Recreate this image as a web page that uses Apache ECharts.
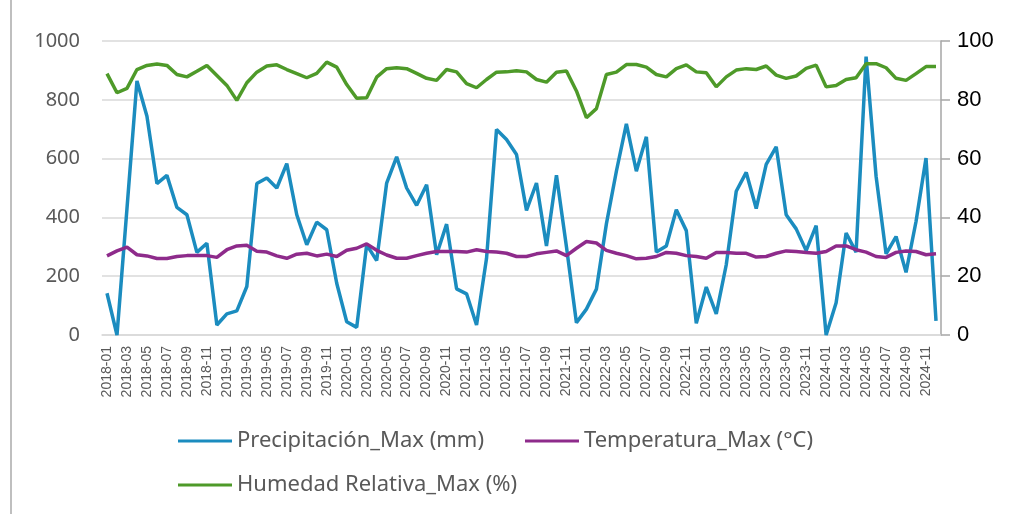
<!DOCTYPE html>
<html><head><meta charset="utf-8">
<script src="https://cdn.jsdelivr.net/npm/echarts@6/dist/echarts.min.js"></script>
<style>html,body{margin:0;padding:0;background:#fff;}#c{width:1013px;height:514px;}</style>
</head><body><div id="c"></div>
<script>
const categories = [
"2018-01","2018-02","2018-03","2018-04","2018-05","2018-06","2018-07","2018-08","2018-09","2018-10","2018-11","2018-12",
"2019-01","2019-02","2019-03","2019-04","2019-05","2019-06","2019-07","2019-08","2019-09","2019-10","2019-11","2019-12",
"2020-01","2020-02","2020-03","2020-04","2020-05","2020-06","2020-07","2020-08","2020-09","2020-10","2020-11","2020-12",
"2021-01","2021-02","2021-03","2021-04","2021-05","2021-06","2021-07","2021-08","2021-09","2021-10","2021-11","2021-12",
"2022-01","2022-02","2022-03","2022-04","2022-05","2022-06","2022-07","2022-08","2022-09","2022-10","2022-11","2022-12",
"2023-01","2023-02","2023-03","2023-04","2023-05","2023-06","2023-07","2023-08","2023-09","2023-10","2023-11","2023-12",
"2024-01","2024-02","2024-03","2024-04","2024-05","2024-06","2024-07","2024-08","2024-09","2024-10","2024-11","2024-12"];

const precipitacion = [142,0,430,864,744,515,543,434,409,281,312,34,
72,82,165,515,534,500,583,409,307,384,358,176,
45,26,307,253,517,606,500,441,511,273,377,157,
140,34,261,699,665,614,424,517,303,543,300,42,
88,156,378,557,718,557,674,282,303,426,355,40,
163,72,239,489,553,430,580,640,409,361,287,372,
0,110,347,282,947,540,276,335,213,386,602,48];

const temperatura = [26.9,28.6,29.9,27.3,26.9,26,26,26.7,27,27,27,26.4,
29,30.3,30.5,28.5,28.2,26.9,26.1,27.5,27.8,26.9,27.5,26.7,
28.8,29.5,31,28.8,27.2,26.1,26.1,27,27.8,28.4,28.4,28.4,
28.2,29,28.4,28.2,27.8,26.7,26.7,27.6,28.1,28.6,27,29.5,
31.8,31.3,28.8,27.8,27,25.9,26.1,26.7,28.1,27.8,27,26.7,
26.1,28.1,28.1,27.8,27.8,26.5,26.7,27.8,28.6,28.4,28.1,27.8,
28.4,30.3,30.3,29,28.2,26.7,26.4,28.1,28.6,28.4,27.3,27.6];

const humedad = [88.9,82.4,83.9,90.3,91.7,92.2,91.7,88.6,87.8,89.7,91.7,88.3,
84.9,79.8,85.8,89.4,91.5,91.9,90.3,88.9,87.5,89,92.8,91.1,
85.2,80.5,80.7,87.7,90.6,90.9,90.6,89,87.3,86.6,90.3,89.5,
85.5,84.1,86.9,89.4,89.5,89.9,89.5,86.9,86,89.4,89.8,83,
73.9,77,88.6,89.4,92,92,91.1,88.6,87.8,90.6,91.9,89.5,
89.2,84.4,87.8,90.1,90.6,90.3,91.5,88.4,87.3,88.1,90.7,91.8,
84.4,84.9,86.9,87.5,92.3,92.3,90.9,87.3,86.6,88.9,91.3,91.3];

const seriesNames = ["Precipitación_Max (mm)","Temperatura_Max (°C)","Humedad Relativa_Max (%)"];
const colors = ["#1B8CBF","#8E2B8B","#4E9A29"];

const chart = echarts.init(document.getElementById('c'), null, {renderer:'canvas'});
const legendText = {color:'#595959', fontSize:22, fontFamily:'Noto Sans'};
const legendIcon = 'path://M0,6 L54,6 L54,9 L0,9 Z';
chart.setOption({
  animation:false,
  backgroundColor:'#fff',
  color: colors,
  graphic:[{type:'line', shape:{x1:11,y1:0,x2:11,y2:514}, style:{stroke:'#BFBFBF', lineWidth:2}}],
  grid:{left:102, right:72, top:41, bottom:179, containLabel:false},
  legend:[
    {data:[seriesNames[0],seriesNames[1]], left:178, top:430, padding:0, itemWidth:54, itemHeight:14, itemGap:41, textStyle:legendText, icon:legendIcon},
    {data:[seriesNames[2]], left:178, top:474, padding:0, itemWidth:54, itemHeight:14, textStyle:legendText, icon:legendIcon}
  ],
  xAxis:{type:'category', data:categories, boundaryGap:true,
    axisLine:{show:true, lineStyle:{color:'#D9D9D9', width:1.5}},
    axisTick:{show:false},
    axisLabel:{rotate:90, interval:1, color:'#595959', fontSize:14, fontFamily:'Liberation Sans', margin:11}
  },
  yAxis:[
    {type:'value', min:0, max:1000, interval:200, position:'left',
     axisLine:{show:false}, axisTick:{show:false},
     axisLabel:{color:'#595959', fontSize:20, fontFamily:'Noto Sans', margin:22, formatter:function(v){return String(v);}},
     splitLine:{lineStyle:{color:'#D9D9D9', width:1.5}}},
    {type:'value', min:0, max:100, interval:20, position:'right',
     axisLine:{show:true, lineStyle:{color:'#A6A6A6', width:1.5}},
     axisTick:{show:true, inside:false, length:9, lineStyle:{color:'#A6A6A6', width:1.5}},
     axisLabel:{color:'#000', fontSize:22, fontFamily:'Liberation Sans', margin:16},
     splitLine:{show:false}}
  ],
  series:[
    {name:seriesNames[0], type:'line', yAxisIndex:0, data:precipitacion, symbol:'none', lineStyle:{width:3.5, color:colors[0]}, itemStyle:{color:colors[0]}},
    {name:seriesNames[1], type:'line', yAxisIndex:1, data:temperatura, symbol:'none', lineStyle:{width:3.5, color:colors[1]}, itemStyle:{color:colors[1]}},
    {name:seriesNames[2], type:'line', yAxisIndex:1, data:humedad, symbol:'none', lineStyle:{width:3.5, color:colors[2]}, itemStyle:{color:colors[2]}}
  ]
});
</script></body></html>
